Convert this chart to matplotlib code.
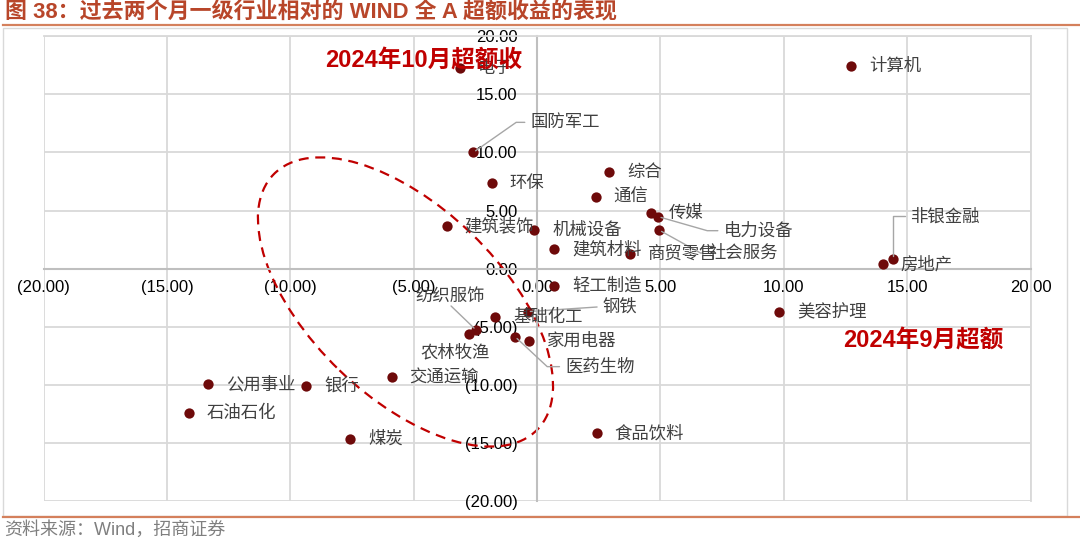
import matplotlib
matplotlib.use("Agg")
import matplotlib.pyplot as plt
from matplotlib.patches import Ellipse, Rectangle
from matplotlib.lines import Line2D
from matplotlib.transforms import ScaledTranslation

# 2024年9月 (x) / 2024年10月 (y) 超额收益, 一级行业 vs WIND 全A
names = ['电子', '计算机', '国防军工', '环保', '综合', '通信', '传媒', '电力设备',
         '社会服务', '商贸零售', '机械设备', '建筑装饰', '建筑材料', '轻工制造',
         '非银金融', '房地产', '美容护理', '钢铁', '基础化工', '纺织服饰', '农林牧渔',
         '医药生物', '家用电器', '交通运输', '公用事业', '银行', '石油石化', '煤炭',
         '食品饮料']
sep_excess = [-3.12, 12.72, -2.58, -1.84, 2.93, 2.38, 4.61, 4.92,
              4.95, 3.77, -0.12, -3.66, 0.69, 0.69,
              14.44, 14.01, 9.81, -0.38, -1.70, -2.47, -2.74,
              -0.89, -0.31, -5.89, -13.33, -9.36, -14.11, -7.58,
              2.42]
oct_excess = [17.22, 17.41, 10.00, 7.39, 8.28, 6.19, 4.76, 4.47,
              3.32, 1.26, 3.32, 3.67, 1.67, -1.49,
              0.81, 0.38, -3.69, -3.69, -4.18, -5.27, -5.61,
              -5.84, -6.21, -9.33, -9.93, -10.08, -12.37, -14.63,
              -14.14]
ticks = [-20, -15, -10, -5, 0, 5, 10, 15, 20]

title = '图 38：过去两个月一级行业相对的 WIND 全 A 超额收益的表现'
source = '资料来源：Wind，招商证券'

cjk = ['Liberation Sans', 'Noto Sans CJK SC']
plt.rcParams['font.family'] = cjk

W, H = 1080, 541
fig = plt.figure(figsize=(W / 100, H / 100), dpi=100)
ax = fig.add_axes([43.5 / W, 1 - 501.4 / H, 987 / W, 465.4 / H])


def fmt(v):
    return f'({abs(v):.2f})' if v < 0 else f'{v:.2f}'


ax.set_xlim(-20, 20)
ax.set_ylim(-20, 20)
ax.set_xticks(ticks)
ax.set_yticks(ticks)
ax.set_xticklabels([fmt(t) for t in ticks])
ax.set_yticklabels([fmt(t) for t in ticks])
for lab, t in zip(ax.get_xticklabels(), ticks):
    lab.set_color('#FF0000' if t < 0 else '#595959')
for lab, t in zip(ax.get_yticklabels(), ticks):
    lab.set_color('#FF0000' if t < 0 else '#595959')
ax.tick_params(axis='both', length=0, labelsize=12)
ax.tick_params(axis='x', pad=8)
ax.tick_params(axis='y', pad=14)

ax.grid(True, color='#D9D9D9', lw=1.3, zorder=0)
ax.set_axisbelow(True)
ax.spines['left'].set_position(('data', 0))
ax.spines['bottom'].set_position(('data', 0))
for s in ['left', 'bottom']:
    ax.spines[s].set_color('#BFBFBF')
    ax.spines[s].set_linewidth(1.5)
for s in ['top', 'right']:
    ax.spines[s].set_color('#D9D9D9')
    ax.spines[s].set_linewidth(1.3)

ax.scatter(sep_excess, oct_excess, s=55, color='#6E0A0A', zorder=3, linewidths=0)

# label placement: (dx, dy) in pixels, ha, leader angle at point or None
special = {
    '国防军工': (57, 30, 'left', 35),
    '电力设备': (65, -14, 'left', -16),
    '社会服务': (49, -23, 'left', -29),
    '钢铁': (75, 5, 'left', 'straight'),
    '纺织服饰': (-26, 34, 'center', 'up'),
    '农林牧渔': (-14, -18, 'center', None),
    '医药生物': (50, -30, 'left', -43),
    '非银金融': (17, 43, 'left', 90),
}
lab_kw = dict(fontsize=12.5, color='#404040', family=['Noto Sans CJK SC'], zorder=4)
lead = dict(arrowstyle='-', color='#A6A6A6', lw=1, shrinkA=4, shrinkB=2, patchA=None)
for n, x, y in zip(names, sep_excess, oct_excess):
    dx, dy, ha, leader = special.get(n, (18, 0, 'left', None))
    ap = None
    if leader == 'straight':
        ap = dict(lead, relpos=(0, 0.5))
    elif leader == 'up':
        ap = dict(lead, relpos=(0.5, 0), shrinkA=1)
    elif leader is not None:
        ap = dict(lead, relpos=(0, 0.5),
                  connectionstyle=f'angle,angleA=0,angleB={leader},rad=0')
    ax.annotate(n, (x, y), xytext=(dx, dy), textcoords='offset pixels',
                ha=ha, va='center', arrowprops=ap, **lab_kw)

# dashed ellipse around the lower-left group
ell = Ellipse((0, 0), width=3.67, height=1.90, angle=-44, fill=False,
              ec='#C00000', lw=1.6, ls=(0, (4.5, 3)), zorder=2,
              transform=fig.dpi_scale_trans + ScaledTranslation(-5.33, -2.86, ax.transData))
ax.add_patch(ell)

ax.text(-8.59, 17.93, '2024年10月超额收', color='#C00000', fontsize=17,
        fontweight='bold', va='center', ha='left', zorder=5)
ax.text(12.40, -6.13, '2024年9月超额', color='#C00000', fontsize=17,
        fontweight='bold', va='center', ha='left', zorder=5)

# frame, title and source
fig.add_artist(Rectangle((3 / W, 1 - 516 / H), 1064 / W, 488 / H, transform=fig.transFigure,
                         fill=False, ec='#D9D9D9', lw=1))
fig.add_artist(Line2D([3 / W, 1], [1 - 24.5 / H] * 2, transform=fig.transFigure,
                      color='#D4805C', lw=1.6))
fig.add_artist(Line2D([3 / W, 1], [1 - 517 / H] * 2, transform=fig.transFigure,
                      color='#D4805C', lw=1.6))
fig.text(5 / W, 1 - 12 / H, title, fontsize=15.8, fontweight='bold', color='#B8462A',
         va='center', ha='left')
fig.text(4 / W, 1 - 530 / H, source, fontsize=13, color='#7F7F7F', va='center', ha='left')

fig.savefig('out.png', dpi=100)
